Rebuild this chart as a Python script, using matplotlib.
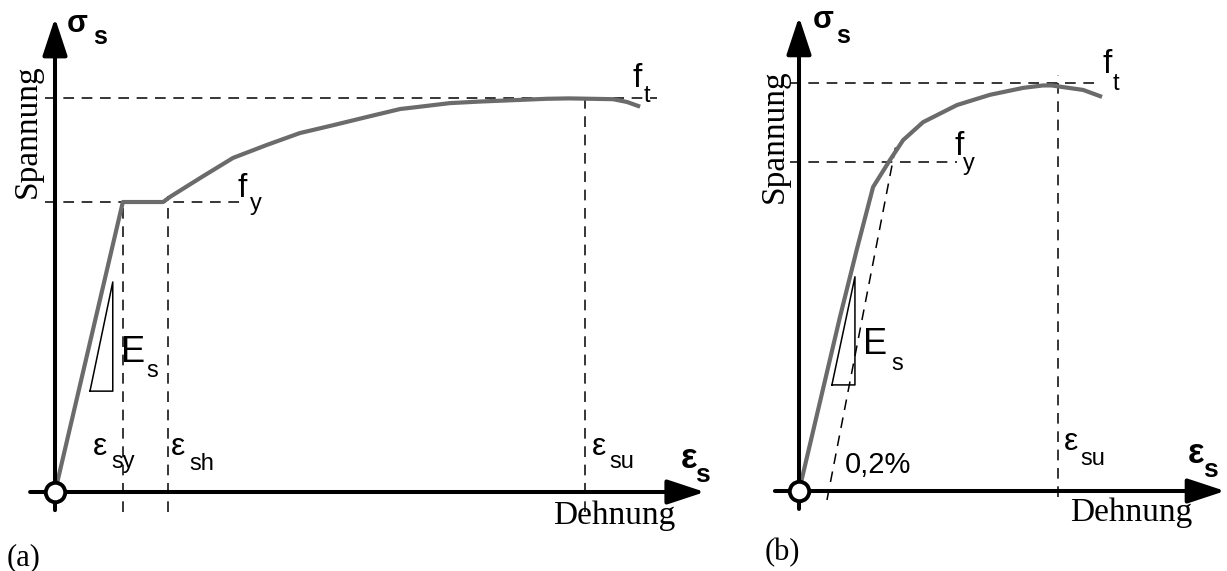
import matplotlib
matplotlib.use("Agg")
import matplotlib.pyplot as plt

SANS = "Liberation Sans"
SERIF = "Liberation Serif"
GRAU = "#6b6b6b"

# normiert: Dehnung / eps_su, Spannung / f_t
# (a) Stahl mit ausgeprägter Fließgrenze
eps_a = [0, 0.128, 0.204, 0.217, 0.274, 0.336, 0.400, 0.462, 0.525, 0.589,
         0.651, 0.683, 0.745, 0.802, 0.928, 0.97, 1.053, 1.079, 1.104]
sig_a = [0, 0.736, 0.736, 0.749, 0.797, 0.848, 0.881, 0.911, 0.931, 0.952,
         0.972, 0.977, 0.987, 0.991, 0.998, 0.999, 0.997, 0.990, 0.978]
fy_a = 0.736
eps_sy = 0.128
eps_sh = 0.213
tri_a_eps = [0.066, 0.109, 0.109, 0.066]
tri_a_sig = [0.256, 0.256, 0.533, 0.256]

# (b) Stahl ohne ausgeprägte Fließgrenze (0,2%-Dehngrenze)
eps_b = [0, 0.158, 0.224, 0.286, 0.351, 0.402, 0.479, 0.610, 0.737, 0.865,
         0.942, 0.975, 1.019, 1.097, 1.170]
sig_b = [0, 0.426, 0.594, 0.745, 0.811, 0.860, 0.904, 0.946, 0.971, 0.988,
         0.994, 0.994, 0.990, 0.983, 0.966]
fy_b = 0.806
off_eps = [0.108, 0.378]
off_sig = [-0.022, 0.860]
tri_b_eps = [0.127, 0.216, 0.216, 0.127]
tri_b_sig = [0.260, 0.260, 0.525, 0.260]

ft = 1.0
eps_su = 1.0

W, H = 1227, 571
fig = plt.figure(figsize=(W / 100, H / 100), dpi=100)


def make_axes(x0, x1, ox, oy, sx, sy):
    # Achsen so legen, dass (0,0) auf dem Ursprung (ox, oy) in Pixeln sitzt
    ax = fig.add_axes([x0 / W, 0, (x1 - x0) / W, 1])
    ax.set_xlim((x0 - ox) / sx, (x1 - ox) / sx)
    ax.set_ylim(-(H - oy) / sy, oy / sy)
    ax.axis("off")
    return ax


def achse(ax, start, tip, horizontal=True):
    if horizontal:
        xy, xyt = (tip, 0), (start, 0)
    else:
        xy, xyt = (0, tip), (0, start)
    ax.annotate("", xy=xy, xytext=xyt,
                arrowprops=dict(arrowstyle="-|>,head_length=1.15,head_width=0.38",
                                mutation_scale=20, lw=2.9, color="k",
                                shrinkA=0, shrinkB=0), zorder=4)


def gestrichelt(ax, x, y):
    ax.plot(x, y, color="k", lw=1.1, linestyle=(0, (7, 5)), zorder=2)


def label(ax, x, y, main, sub, dx, dy, size=24, subsize=17, weight="normal"):
    ax.text(x, y, main, fontsize=size, family=SANS, weight=weight,
            ha="left", va="baseline")
    ax.annotate(sub, xy=(x, y), xytext=(dx, -dy), textcoords="offset pixels",
                fontsize=subsize, family=SANS, weight=weight,
                ha="left", va="baseline")


# ---------------- (a) ----------------
ax = make_axes(0, 736, 55, 492, 530, 394)
gestrichelt(ax, [-0.019, 0.349], [fy_a, fy_a])
gestrichelt(ax, [-0.019, 1.136], [ft, ft])
gestrichelt(ax, [eps_sy, eps_sy], [-0.051, fy_a])
gestrichelt(ax, [eps_sh, eps_sh], [-0.051, 0.752])
gestrichelt(ax, [eps_su, eps_su], [-0.051, 1.015])
ax.plot(eps_a, sig_a, color=GRAU, lw=3.0, solid_capstyle="butt",
        solid_joinstyle="round", zorder=3)
ax.plot(tri_a_eps, tri_a_sig, color="k", lw=1.1, zorder=3)
achse(ax, -0.047, 1.226, True)
achse(ax, -0.046, 1.203, False)
ax.plot([0], [0], "o", ms=14, mfc="white", mec="k", mew=2.8, zorder=6)

label(ax, 0.022, 1.167, "σ", "s", 26, 12, size=22, subsize=18, weight="bold")
ax.text(-0.051, 0.916, "Spannung", rotation=90, fontsize=24, family=SERIF,
        ha="center", va="center")
label(ax, 0.345, 0.749, "f", "y", 12, 13)
label(ax, 1.089, 1.028, "f", "t", 11, 15)
label(ax, 0.124, 0.330, "E", "s", 26, 15, size=26)
label(ax, 0.072, 0.094, "ε", "sy", 18, 13, size=23)
label(ax, 0.219, 0.094, "ε", "sh", 18, 15, size=23)
label(ax, 1.013, 0.094, "ε", "su", 17, 13, size=23)
label(ax, 1.180, 0.061, "ε", "s", 15, 14, size=25, subsize=19, weight="bold")
ax.text(0.94, -0.081, "Dehnung", fontsize=24, family=SERIF, ha="left", va="baseline")
ax.text(-0.091, -0.185, "(a)", fontsize=22, family=SERIF, ha="left", va="baseline")

# ---------------- (b) ----------------
ax = make_axes(736, 1227, 799, 491, 259, 408)
gestrichelt(ax, [-0.035, 1.15], [ft, ft])
gestrichelt(ax, [-0.035, 0.61], [fy_b, fy_b])
gestrichelt(ax, [eps_su, eps_su], [-0.015, 1.02])
gestrichelt(ax, off_eps, off_sig)
ax.plot(eps_b, sig_b, color=GRAU, lw=3.0, solid_capstyle="butt",
        solid_joinstyle="round", zorder=3)
ax.plot(tri_b_eps, tri_b_sig, color="k", lw=1.1, zorder=3)
achse(ax, -0.093, 1.645, True)
achse(ax, -0.044, 1.162, False)
ax.plot([0], [0], "o", ms=14, mfc="white", mec="k", mew=2.8, zorder=6)

label(ax, 0.054, 1.135, "σ", "s", 23, 15, size=22, subsize=18, weight="bold")
ax.text(-0.093, 0.870, "Spannung", rotation=90, fontsize=24, family=SERIF,
        ha="center", va="center")
label(ax, 1.17, 1.025, "f", "t", 11, 17)
label(ax, 0.602, 0.824, "f", "y", 8, 15)
label(ax, 0.247, 0.336, "E", "s", 28, 16, size=26)
ax.text(0.178, 0.044, "0,2%", fontsize=21, family=SANS, ha="left", va="baseline")
label(ax, 1.022, 0.100, "ε", "su", 17, 15, size=23)
label(ax, 1.50, 0.069, "ε", "s", 16, 14, size=25, subsize=19, weight="bold")
ax.text(1.046, -0.074, "Dehnung", fontsize=24, family=SERIF, ha="left", va="baseline")
ax.text(-0.131, -0.169, "(b)", fontsize=22, family=SERIF, ha="left", va="baseline")

fig.savefig("out.png", dpi=100)
